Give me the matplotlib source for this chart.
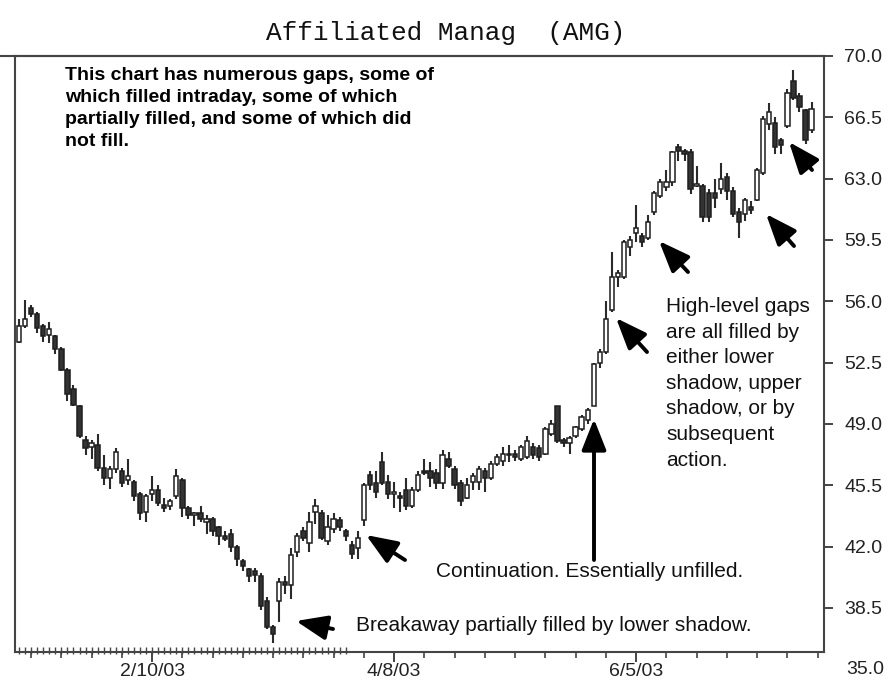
import matplotlib
matplotlib.use("Agg")
import matplotlib.pyplot as plt
import matplotlib.transforms as mtransforms
from matplotlib import font_manager as fm
from matplotlib.lines import Line2D

# ---------------- data ----------------
title = "Affiliated Manag  (AMG)"
opens = [53.7, 54.6, 55.6, 55.3, 54.6, 54.1, 54.0, 53.3, 52.1, 51.0,
         50.0, 48.1, 47.7, 47.8, 46.5, 45.9, 46.4, 46.3, 45.8, 45.7,
         45.0, 44.0, 45.0, 45.2, 44.4, 44.3, 44.9, 45.8, 44.2, 43.8,
         43.9, 43.4, 43.6, 43.1, 42.6, 42.7, 42.0, 41.2, 40.7, 40.6,
         40.3, 38.9, 37.4, 38.9, 40.0, 39.8, 41.7, 42.9, 42.2, 44.0,
         43.9, 42.3, 43.0, 43.5, 42.9, 42.1, 41.9, 43.5, 46.1, 45.6,
         46.8, 45.7, 45.0, 44.9, 45.2, 44.3, 45.2, 46.3, 46.3, 46.2,
         45.6, 47.0, 46.4, 45.6, 44.8, 45.7, 45.7, 46.3, 45.9, 46.7,
         46.9, 47.3, 47.3, 47.0, 47.1, 47.7, 47.6, 47.3, 48.4, 50.0,
         48.1, 47.9, 48.3, 48.7, 49.2, 50.0, 52.5, 53.1, 55.5, 57.4,
         57.4, 59.1, 59.9, 59.7, 59.6, 61.1, 62.0, 62.5, 62.8, 64.8,
         64.6, 64.5, 62.6, 62.6, 62.2, 62.2, 62.4, 63.1, 62.3, 61.1,
         61.0, 61.4, 61.8, 63.3, 66.1, 66.2, 65.2, 66.0, 68.6, 67.7,
         66.9, 65.8]
highs = [55.0, 56.1, 55.8, 55.4, 54.7, 54.8, 54.1, 53.4, 52.2, 51.2,
         50.1, 48.3, 48.1, 48.4, 47.2, 46.6, 47.6, 46.5, 47.0, 45.8,
         45.1, 45.0, 46.0, 45.5, 44.8, 44.7, 46.4, 45.9, 44.3, 44.0,
         44.3, 43.8, 43.7, 43.2, 42.9, 43.0, 42.1, 41.3, 40.8, 40.8,
         40.5, 39.1, 37.5, 40.2, 40.3, 41.9, 42.8, 43.1, 44.0, 44.7,
         44.1, 43.8, 43.9, 43.7, 43.0, 42.3, 42.9, 45.6, 46.3, 46.3,
         47.4, 46.1, 45.7, 45.1, 45.9, 45.4, 46.3, 47.0, 46.8, 46.4,
         47.5, 47.4, 46.6, 45.8, 45.9, 46.2, 46.6, 46.5, 46.9, 47.3,
         47.7, 47.8, 47.5, 47.8, 48.3, 47.9, 47.8, 48.8, 49.2, 50.0,
         48.2, 48.3, 48.9, 49.5, 49.9, 52.5, 53.3, 56.0, 58.8, 57.8,
         59.5, 59.7, 61.5, 59.9, 60.9, 62.3, 63.0, 63.5, 64.6, 65.0,
         64.7, 64.7, 63.7, 62.7, 62.4, 63.0, 63.9, 63.3, 62.5, 61.3,
         61.9, 61.7, 63.6, 66.6, 67.3, 66.5, 65.3, 68.1, 69.2, 67.9,
         67.0, 67.4]
lows = [53.6, 54.5, 55.1, 54.2, 53.7, 53.6, 53.0, 52.0, 50.3, 50.0,
        48.2, 47.2, 47.0, 46.3, 45.5, 45.3, 46.2, 45.4, 45.5, 44.6,
        43.5, 43.4, 44.6, 44.3, 44.0, 44.1, 44.7, 43.7, 43.6, 43.2,
        43.4, 42.7, 42.6, 42.1, 42.3, 41.7, 40.9, 40.6, 40.0, 40.0,
        38.4, 37.3, 36.5, 37.7, 39.3, 39.0, 41.4, 42.3, 41.7, 43.3,
        42.4, 42.1, 42.8, 42.9, 42.3, 41.3, 41.3, 43.2, 45.2, 44.8,
        45.5, 44.7, 44.2, 44.0, 44.1, 44.2, 45.1, 46.1, 45.4, 45.3,
        45.3, 46.5, 45.3, 44.3, 44.7, 45.2, 45.2, 45.1, 45.8, 46.6,
        46.6, 46.8, 46.9, 46.9, 47.0, 47.0, 46.9, 47.2, 48.3, 47.9,
        47.7, 47.3, 48.2, 48.6, 49.0, 50.0, 52.2, 53.0, 55.4, 56.8,
        57.3, 58.6, 59.4, 59.1, 59.5, 60.9, 61.9, 62.3, 62.6, 64.0,
        64.0, 62.1, 62.5, 60.5, 60.5, 61.3, 62.1, 61.8, 60.8, 59.6,
        60.6, 61.0, 61.7, 63.2, 65.8, 64.4, 64.4, 65.9, 67.5, 66.8,
        65.0, 65.6]
closes = [54.6, 55.0, 55.3, 54.5, 54.0, 54.4, 53.3, 52.1, 50.7, 50.1,
          48.3, 47.6, 47.9, 46.5, 45.9, 46.4, 47.4, 45.6, 46.0, 44.9,
          43.9, 44.9, 45.2, 44.5, 44.2, 44.6, 46.0, 44.2, 43.8, 43.9,
          43.6, 43.6, 42.9, 42.6, 42.45, 42.0, 41.3, 40.9, 40.3, 40.4,
          38.6, 37.4, 37.0, 40.0, 39.8, 41.5, 42.6, 42.5, 43.4, 44.3,
          42.5, 43.1, 43.6, 43.1, 42.6, 41.6, 42.5, 45.5, 45.5, 45.1,
          45.6, 45.0, 45.1, 44.8, 44.3, 45.2, 46.1, 46.2, 45.9, 45.6,
          47.2, 46.6, 45.5, 44.6, 45.5, 46.0, 46.4, 45.9, 46.7, 47.1,
          47.3, 47.2, 47.1, 47.7, 48.0, 47.2, 47.1, 48.7, 49.0, 48.0,
          47.9, 48.2, 48.8, 49.4, 49.8, 52.4, 53.1, 55.0, 57.4, 57.6,
          59.4, 59.5, 60.2, 59.4, 60.5, 62.2, 62.8, 62.8, 64.5, 64.6,
          64.4, 62.4, 62.7, 60.8, 60.8, 61.9, 63.0, 62.3, 61.0, 60.5,
          61.8, 61.2, 63.5, 66.4, 66.8, 64.8, 64.9, 67.9, 67.6, 67.1,
          65.2, 67.0]
date_tick_pos = [22, 62, 102]
date_tick_labels = ["2/10/03", "4/8/03", "6/5/03"]
price_ticks = [38.5, 42.0, 45.5, 49.0, 52.5, 56.0, 59.5, 63.0, 66.5, 70.0]
bottom_label = 35.0

# ---------------- fonts ----------------
names = {f.name for f in fm.fontManager.ttflist}
if "Liberation Sans Narrow" in names:
    NF = ["Liberation Sans Narrow", "DejaVu Sans"]
    fs_note, fs_tick = 17.5, 17.0
else:
    NF = ["Liberation Sans", "DejaVu Sans"]
    fs_note, fs_tick = 15.0, 14.0

W, H = 891, 690
fig = plt.figure(figsize=(W / 100, H / 100), dpi=100)
fig.patch.set_facecolor("white")
L, R, T, B = 15, 824, 56, 652
ax = fig.add_axes([L / W, 1 - B / H, (R - L) / W, (B - T) / H])

n = len(opens)
idx = list(range(n))
step = 6.05
ax.set_xlim((L - 19) / step, (R - 19) / step)
ymax = 70.0
ppu = 17.52
ax.set_ylim(ymax - (B - T) / ppu, ymax)

edge = "#1e1e1e"
dark = "#333333"
ax.vlines(idx, lows, highs, color="#2a2a2a", lw=1.5, zorder=2)
bot = [min(o, c) for o, c in zip(opens, closes)]
hgt = [max(abs(c - o), 0.08) for o, c in zip(opens, closes)]
fills = ["white" if c >= o else dark for o, c in zip(opens, closes)]
ax.bar(idx, hgt, bottom=bot, width=0.72, color=fills, edgecolor=edge,
       linewidth=1.1, zorder=3)

# spines
for s in ["left", "right", "top", "bottom"]:
    ax.spines[s].set_color("#444444")
    ax.spines[s].set_linewidth(1.5)
fig.add_artist(Line2D([0, R / W], [1 - T / H, 1 - T / H], color="#444444", lw=1.5))

# y axis on right
ax.yaxis.tick_right()
ax.set_yticks(price_ticks)
ax.set_yticklabels([f"{v:.1f}" for v in price_ticks], family=NF, fontsize=fs_tick, color="#222222")
ax.tick_params(axis="y", direction="out", length=6.5, width=1.4, pad=8, color="#444444")
ax.text(1.0 + 22 / (R - L), bottom_label, f"{bottom_label:.1f}",
        transform=mtransforms.blended_transform_factory(ax.transAxes, ax.transData),
        ha="left", va="center", family=NF, fontsize=fs_tick, color="#222222", clip_on=False)

# x axis
ax.set_xticks(date_tick_pos)
ax.set_xticklabels(date_tick_labels, family=NF, fontsize=fs_tick, color="#222222")
weekly = [p for p in range(2, n + 2, 5) if p not in date_tick_pos]
ax.set_xticks(weekly, minor=True)
ax.tick_params(axis="x", which="major", direction="out", length=7, width=1.4, pad=1, color="#444444")
ax.tick_params(axis="x", which="minor", direction="out", length=4, width=1.2, color="#444444")
tr = mtransforms.blended_transform_factory(ax.transData, ax.transAxes)
daily = list(range(0, 55))
ax.vlines(daily, -0.003, 0.009, transform=tr, color="#444444", lw=1.0, clip_on=False, zorder=4)

# ---------------- text ----------------
def fx(x):
    return x / W

def fy(y):
    return 1 - y / H

fig.text(fx(446), fy(33), title, family=["Liberation Mono", "DejaVu Sans Mono"], fontsize=18.8,
         ha="center", va="center", color="#111111")

bold_lines = ["This chart has numerous gaps, some of",
              "which filled intraday, some of which",
              "partially filled, and some of which did",
              "not fill."]
for i, line in enumerate(bold_lines):
    fig.text(fx(65), fy(75 + 22 * i), line, family=["Liberation Sans", "DejaVu Sans"], fontsize=14,
             fontweight="bold", ha="left", va="center", color="black")

hl_lines = ["High-level gaps", "are all filled by", "either lower", "shadow, upper",
            "shadow, or by", "subsequent", "action."]
for i, line in enumerate(hl_lines):
    fig.text(fx(666), fy(312 + 25.6 * i), line, family=NF, fontsize=fs_note,
             ha="left", va="baseline", color="#111111")

fig.text(fx(436), fy(577), "Continuation. Essentially unfilled.", family=NF, fontsize=fs_note,
         ha="left", va="baseline", color="#111111")
fig.text(fx(356), fy(631), "Breakaway partially filled by lower shadow.", family=NF, fontsize=fs_note,
         ha="left", va="baseline", color="#111111")

# ---------------- arrows ----------------
arrows = [((333, 629), (296, 621)),
          ((405, 560), (366, 535)),
          ((594, 560), (594, 419)),
          ((647, 352), (616, 318)),
          ((688, 272), (659, 241)),
          ((794, 246), (766, 214)),
          ((812, 170), (789, 142))]
for (tx, ty), (hx, hy) in arrows:
    ax.annotate("", xy=(hx, H - hy), xytext=(tx, H - ty), xycoords="figure pixels",
                textcoords="figure pixels",
                arrowprops=dict(arrowstyle="-|>,head_length=1.9,head_width=0.75", color="black",
                                lw=2.8, shrinkA=0, shrinkB=0), zorder=6)

fig.savefig("out.png", dpi=100, facecolor="white")
